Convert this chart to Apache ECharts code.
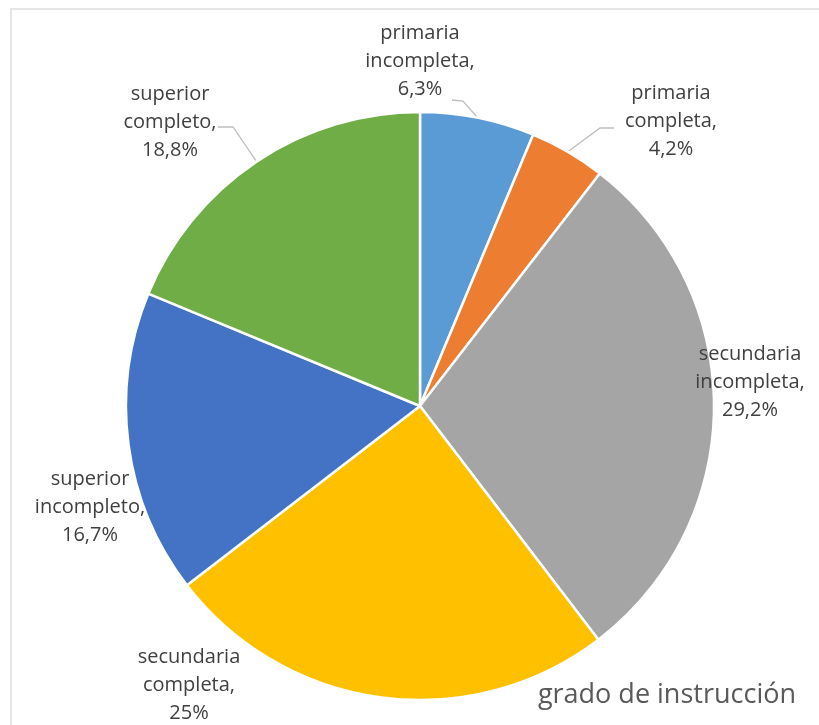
<!DOCTYPE html>
<html>
<head>
<meta charset="utf-8">
<script src="https://cdn.jsdelivr.net/npm/echarts@6/dist/echarts.min.js"></script>
<style>
  html, body { margin: 0; padding: 0; background: #ffffff; }
  #chart { width: 819px; height: 725px; }
</style>
</head>
<body>
<div id="chart"></div>
<script>
// Education level shares (percent), clockwise from 12 o'clock
const categories = [
  'primaria incompleta',
  'primaria completa',
  'secundaria incompleta',
  'secundaria completa',
  'superior incompleto',
  'superior completo'
];
const shares = [6.3, 4.2, 29.2, 25, 16.7, 18.8];
const sliceColors = ['#5B9BD5', '#ED7D31', '#A5A5A5', '#FFC000', '#4472C4', '#70AD47'];
const chartTitle = 'grado de instrucción';

// Layout of the pie and its labels
const pieCenter = [420, 406];
const pieRadius = 294;
const labelCenters = [[420, 61], [671, 121], [750, 382], [189, 685], [90, 507], [170, 122]];
// Leader line bend and end (near the label) for labels that have one
const leaderPaths = {
  0: [[463, 101], [452, 100]],
  1: [[600, 128], [614, 128]],
  5: [[233, 127], [218, 127]]
};

const total = shares.reduce((a, b) => a + b, 0);
function edgePoint(i) {
  let before = 0;
  for (let k = 0; k < i; k++) before += shares[k];
  const mid = (before + shares[i] / 2) / total * Math.PI * 2;
  return [pieCenter[0] + pieRadius * Math.sin(mid), pieCenter[1] - pieRadius * Math.cos(mid)];
}

const chart = echarts.init(document.getElementById('chart'), null, { renderer: 'canvas' });

chart.setOption({
  backgroundColor: '#ffffff',
  animation: false,
  title: {
    text: chartTitle,
    right: 18,
    top: 677,
    textStyle: { fontFamily: 'Open Sans', fontSize: 27, fontWeight: 'normal', color: '#595959' }
  },
  graphic: [{
    type: 'rect',
    shape: { x: 11, y: 9, width: 1000, height: 1000 },
    style: { fill: 'none', stroke: '#e6e6e6', lineWidth: 2 },
    silent: true
  }],
  series: [{
    type: 'pie',
    center: pieCenter,
    radius: pieRadius,
    startAngle: 90,
    clockwise: true,
    avoidLabelOverlap: false,
    itemStyle: { borderColor: '#ffffff', borderWidth: 2.5 },
    label: {
      show: true,
      position: 'outside',
      fontFamily: 'Open Sans',
      fontSize: 20,
      lineHeight: 28,
      color: '#404040',
      align: 'center',
      formatter: p => p.name.replace(' ', '\n') + ',\n' + String(p.value).replace('.', ',') + '%'
    },
    labelLine: { show: true, lineStyle: { color: '#bfbfbf', width: 1.3 } },
    labelLayout: params => {
      const i = params.dataIndex;
      const c = labelCenters[i];
      const out = { x: c[0], y: c[1], align: 'center', verticalAlign: 'middle' };
      if (leaderPaths[i]) {
        out.labelLinePoints = [edgePoint(i), leaderPaths[i][0], leaderPaths[i][1]];
      }
      return out;
    },
    data: categories.map((name, i) => ({
      name: name,
      value: shares[i],
      itemStyle: { color: sliceColors[i] },
      labelLine: { show: !!leaderPaths[i] }
    }))
  }]
});
</script>
</body>
</html>
